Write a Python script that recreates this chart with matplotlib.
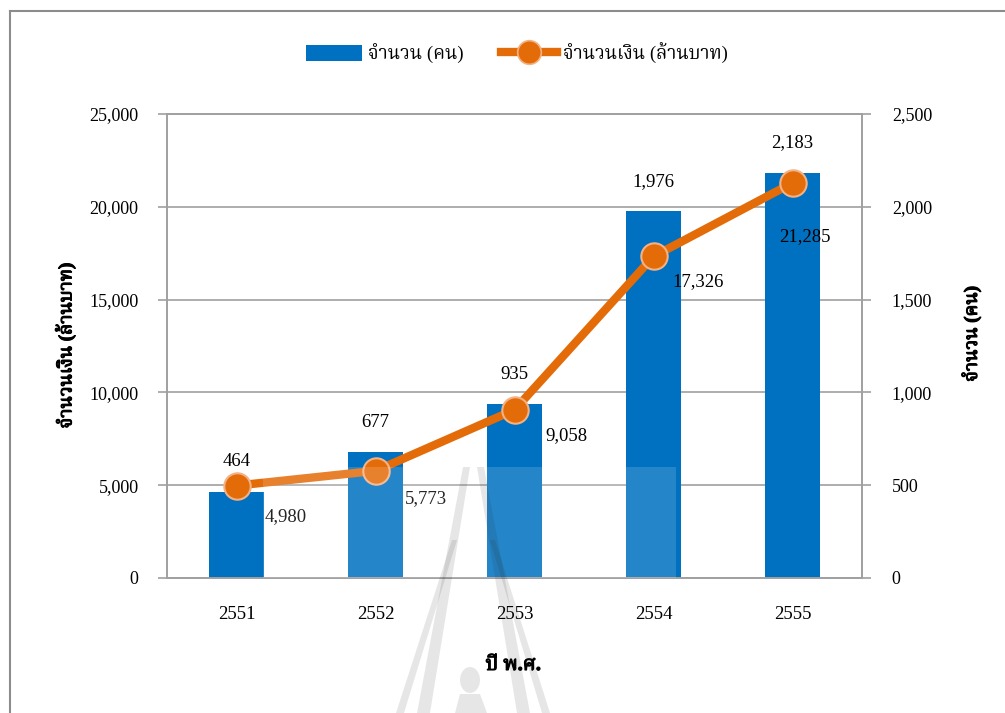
import numpy as np
import matplotlib
matplotlib.use("Agg")
import matplotlib.pyplot as plt
import matplotlib.patheffects as pe
from matplotlib import font_manager
from matplotlib.ft2font import FT2Font
from matplotlib.patches import Rectangle, Polygon, Ellipse, Patch
from matplotlib.lines import Line2D
from matplotlib.ticker import FuncFormatter, MultipleLocator

# Data: Thai Buddhist-era years, people count and amount (million baht)
years = ["2551", "2552", "2553", "2554", "2555"]
people = [464, 677, 935, 1976, 2183]
money = [4980, 5773, 9058, 17326, 21285]

bar_label = "จำนวน (คน)"
line_label = "จำนวนเงิน (ล้านบาท)"
x_title = "ปี พ.ศ."


def find_thai_font():
    """Return the name of an installed font that has Thai glyphs."""
    found = []
    for f in font_manager.fontManager.ttflist:
        try:
            if 0x0E08 in FT2Font(f.fname).get_charmap():
                found.append(f.name)
        except Exception:
            pass
    for pref in ["Noto Serif Thai", "TH Sarabun New", "Norasi", "Garuda",
                 "Loma", "Noto Sans Thai", "Noto Sans Thai UI"]:
        if pref in found:
            return pref
    return found[0] if found else None


thai = find_thai_font()
families = ["Liberation Serif"] + ([thai] if thai else []) + ["DejaVu Sans"]
plt.rcParams["font.family"] = families

W, H = 1005, 713
BLUE = "#0070C0"
ORANGE = "#E36C09"
GRID = "#A0A0A0"
# thicken the Thai titles, the Thai font has no bold face
heavy = [pe.withStroke(linewidth=0.8, foreground="black")]


def fx(px):
    return px / W


def fy(py):
    return 1 - py / H


fig = plt.figure(figsize=(W / 100, H / 100), dpi=100)
ax = fig.add_axes([fx(167), fy(578), fx(862) - fx(167), fy(114) - fy(578)])
ax_bar = ax.twinx()
ax.set_zorder(ax_bar.get_zorder() + 1)
ax.patch.set_visible(False)

x = np.arange(len(years))

# bars: people, right axis
ax_bar.bar(x, people, width=0.4, color=BLUE, zorder=2)
ax_bar.set_ylim(0, 2500)
ax_bar.yaxis.set_major_locator(MultipleLocator(500))
ax_bar.grid(axis="y", color=GRID, lw=1.2)
ax_bar.set_axisbelow(True)

# line: money, left axis
ax.plot(x, money, color=ORANGE, lw=6, marker="o", ms=19,
        mfc=ORANGE, mec="#F4B183", mew=1.5, zorder=3)
ax.set_ylim(0, 25000)
ax.yaxis.set_major_locator(MultipleLocator(5000))
ax.set_xlim(-0.5, 4.5)
ax.set_xticks(x, years)

fmt = FuncFormatter(lambda v, p: f"{v:,.0f}")
ax.yaxis.set_major_formatter(fmt)
ax_bar.yaxis.set_major_formatter(fmt)

for a in (ax, ax_bar):
    for s in a.spines.values():
        s.set_color(GRID)
        s.set_linewidth(1.2)
ax.tick_params(axis="y", direction="out", length=6.5, width=1.2, color=GRID,
               pad=14, labelsize=13)
ax.tick_params(axis="x", length=0, pad=20, labelsize=13.5)
ax_bar.tick_params(axis="y", direction="out", length=6.5, width=1.2, color=GRID,
                   pad=15, labelsize=13)

# value labels
for i, v in enumerate(people):
    ax_bar.annotate(f"{v:,}", (i, v), xytext=(0, 30), textcoords="offset pixels",
                    ha="center", va="center", fontsize=13.5)

line_offsets = [(28, -31), (29, -28), (31, -26), (19, -25), (-13, -54)]
for i, (v, off) in enumerate(zip(money, line_offsets)):
    ax.annotate(f"{v:,}", (i, v), xytext=off, textcoords="offset pixels",
                ha="left", va="center", fontsize=13.5, zorder=4)

# axis titles
fig.text(fx(65), fy(346), line_label, rotation=90, ha="center", va="center",
         fontsize=13.5, fontweight="bold", path_effects=heavy)
fig.text(fx(971), fy(334), bar_label, rotation=90, ha="center", va="center",
         fontsize=13.5, fontweight="bold", path_effects=heavy)
fig.text(fx(513), fy(665), x_title, ha="center", va="center",
         fontsize=14.5, fontweight="bold", path_effects=heavy)

# legend
handles = [
    Patch(facecolor=BLUE, edgecolor="none"),
    Line2D([], [], color=ORANGE, lw=6, marker="o", ms=17, mfc=ORANGE,
           mec="#F4B183", mew=1.2),
]
fig.legend(handles, [bar_label, line_label], loc="center",
           bbox_to_anchor=(fx(517), fy(53)), ncol=2, frameon=False,
           fontsize=13.5, handlelength=3.0, handleheight=1.0,
           columnspacing=2.0, handletextpad=0.3)

# outer frame
fig.add_artist(Line2D([fx(10), fx(10)], [fy(11), 0], transform=fig.transFigure,
                      color="#8C8C8C", lw=1.5))
fig.add_artist(Line2D([fx(10), 1], [fy(11), fy(11)], transform=fig.transFigure,
                      color="#8C8C8C", lw=1.5))

# faint emblem watermark
fig.add_artist(Rectangle((fx(263), fy(578)), fx(676) - fx(263), fy(467) - fy(578),
                         transform=fig.transFigure, color="white", alpha=0.15,
                         lw=0, zorder=10))
shade = dict(transform=fig.transFigure, color="#222222", alpha=0.11, lw=0,
             zorder=11)
for pts in (
    [(463, 467), (470, 467), (430, 713), (417, 713)],
    [(477, 467), (484, 467), (530, 713), (517, 713)],
    [(452, 540), (457, 540), (404, 713), (396, 713)],
    [(490, 540), (495, 540), (550, 713), (542, 713)],
):
    fig.add_artist(Polygon([(fx(a), fy(b)) for a, b in pts], **shade))
fig.add_artist(Ellipse((fx(470), fy(680)), fx(20), fy(0) - fy(26), **shade))
fig.add_artist(Polygon([(fx(a), fy(b)) for a, b in
                        [(455, 713), (460, 694), (480, 694), (487, 713)]], **shade))

fig.savefig("out.png", dpi=100)
